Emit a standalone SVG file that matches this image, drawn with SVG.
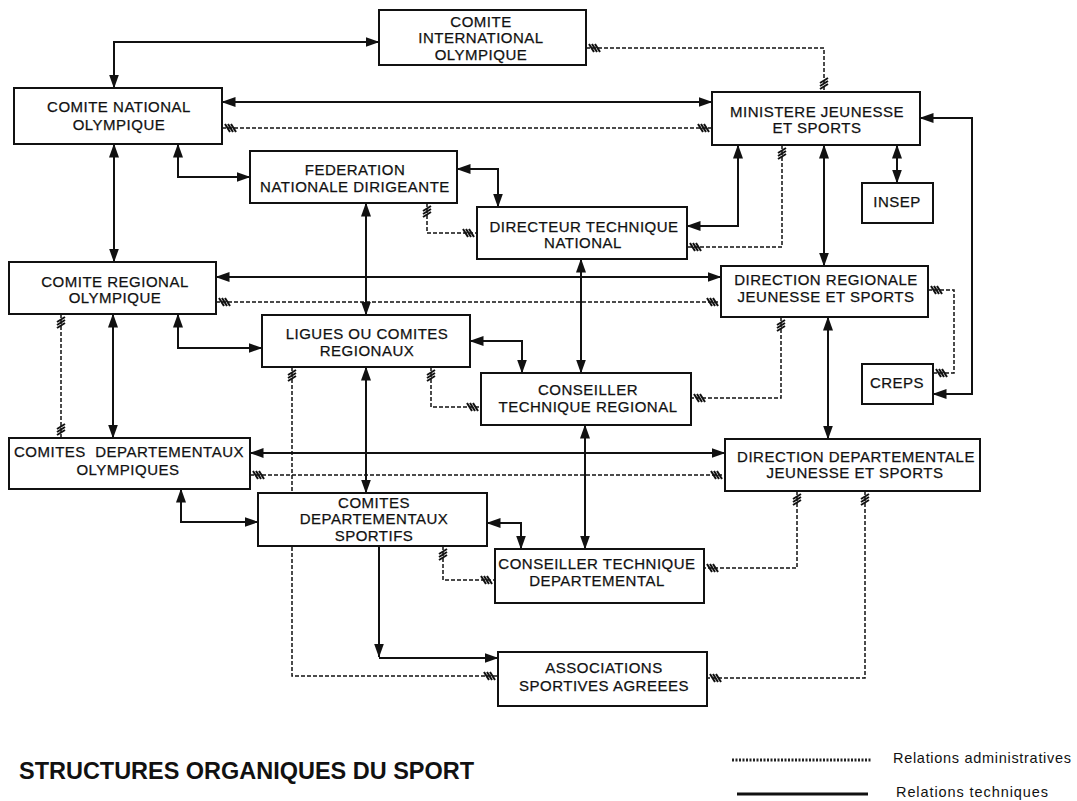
<svg xmlns="http://www.w3.org/2000/svg" width="1077" height="801" viewBox="0 0 1077 801">
<style>
.box{fill:#fff;stroke:#111;stroke-width:2}
.t{font-family:"Liberation Sans",Arial,sans-serif;font-size:15px;letter-spacing:0.5px;fill:#111;stroke:#111;stroke-width:0.25;text-anchor:middle}
.tech{fill:none;stroke:#111;stroke-width:2;marker-start:url(#a);marker-end:url(#a)}
.adm{fill:none;stroke:#111;stroke-width:1.5;stroke-dasharray:4 2;marker-start:url(#h);marker-end:url(#h)}
.leg{font-family:"Liberation Sans",Arial,sans-serif;font-size:14.5px;fill:#111}
</style>
<defs>
<marker id="a" markerUnits="userSpaceOnUse" markerWidth="14" markerHeight="10" viewBox="0 0 14 10" refX="13.5" refY="5" orient="auto-start-reverse"><path d="M0,0 L14,5 L0,10 z" fill="#111"/></marker>
<marker id="h" markerUnits="userSpaceOnUse" markerWidth="20" markerHeight="16" viewBox="-16 -8 20 16" refX="0" refY="0" orient="auto-start-reverse"><path d="M-14,-4 L-9,4 M-11,-4 L-6,4 M-8,-4 L-3,4" stroke="#111" stroke-width="2" fill="none"/></marker>
</defs>
<rect width="1077" height="801" fill="#fff"/>
<g id="connectors">
<path class="tech" d="M379,42 H114 V88"/>
<path class="tech" d="M222,102 H712"/>
<path class="tech" d="M114,144 V262"/>
<path class="tech" d="M178,144 V177 H250"/>
<path class="tech" d="M457,169 H498 V207"/>
<path class="tech" d="M738,145 V226 H687"/>
<path class="tech" d="M824,145 V266"/>
<path class="tech" d="M897,145 V183"/>
<path class="tech" d="M920,118 H972 V394 H933"/>
<path class="tech" d="M366,203 V315"/>
<path class="tech" d="M216,277 H721"/>
<path class="tech" d="M581,259 V373"/>
<path class="tech" d="M178,314 V348 H262"/>
<path class="tech" d="M470,341 H522 V373"/>
<path class="tech" d="M113,314 V438"/>
<path class="tech" d="M366,367 V493"/>
<path class="tech" d="M828,317 V439"/>
<path class="tech" d="M250,453 H725"/>
<path class="tech" d="M585,425 V549"/>
<path class="tech" d="M181,489 V522 H258"/>
<path class="tech" d="M487,523 H521 V549"/>
<path d="M379,546 V657" fill="none" stroke="#111" stroke-width="2" marker-end="url(#a)"/>
<path d="M379,658 H498" fill="none" stroke="#111" stroke-width="2" marker-end="url(#a)"/>
<path class="adm" d="M586,48 H824 V92"/>
<path class="adm" d="M222,128 H712"/>
<path class="adm" d="M427,203 V233 H477"/>
<path class="adm" d="M782,145 V247 H687"/>
<path class="adm" d="M216,302 H721"/>
<path class="adm" d="M781,317 V398 H691"/>
<path class="adm" d="M928,290 H954 V373 H933"/>
<path class="adm" d="M431,367 V407 H481"/>
<path class="adm" d="M61,314 V438"/>
<path class="adm" d="M250,475 H725"/>
<path class="adm" d="M292,367 V676 H498"/>
<path class="adm" d="M443,546 V580 H495"/>
<path class="adm" d="M797,491 V568 H704"/>
<path class="adm" d="M865,491 V678 H707"/>
</g>
<g id="cio"><rect class="box" x="379" y="10" width="207" height="55"/><text class="t" x="481" y="27">COMITE</text><text class="t" x="481" y="43">INTERNATIONAL</text><text class="t" x="481" y="60">OLYMPIQUE</text></g>
<g id="cno"><rect class="box" x="14" y="88" width="208" height="56"/><text class="t" x="119" y="112">COMITE NATIONAL</text><text class="t" x="119" y="130">OLYMPIQUE</text></g>
<g id="mjs"><rect class="box" x="712" y="92" width="208" height="53"/><text class="t" x="817" y="117">MINISTERE JEUNESSE</text><text class="t" x="817" y="133">ET SPORTS</text></g>
<g id="fnd"><rect class="box" x="250" y="151" width="207" height="52"/><text class="t" x="355" y="175">FEDERATION</text><text class="t" x="355" y="192">NATIONALE DIRIGEANTE</text></g>
<g id="dtn"><rect class="box" x="477" y="207" width="210" height="52"/><text class="t" x="584" y="232">DIRECTEUR TECHNIQUE</text><text class="t" x="583" y="248">NATIONAL</text></g>
<g id="insep"><rect class="box" x="862" y="183" width="71" height="40"/><text class="t" x="897" y="207">INSEP</text></g>
<g id="cro"><rect class="box" x="9" y="262" width="207" height="52"/><text class="t" x="115" y="287">COMITE REGIONAL</text><text class="t" x="115" y="303">OLYMPIQUE</text></g>
<g id="drjs"><rect class="box" x="721" y="266" width="207" height="51"/><text class="t" x="826" y="285">DIRECTION REGIONALE</text><text class="t" x="826" y="302">JEUNESSE ET SPORTS</text></g>
<g id="lcr"><rect class="box" x="262" y="315" width="208" height="52"/><text class="t" x="367" y="339">LIGUES OU COMITES</text><text class="t" x="367" y="356">REGIONAUX</text></g>
<g id="ctr"><rect class="box" x="481" y="373" width="210" height="52"/><text class="t" x="588" y="395">CONSEILLER</text><text class="t" x="588" y="412">TECHNIQUE REGIONAL</text></g>
<g id="creps"><rect class="box" x="862" y="364" width="71" height="40"/><text class="t" x="897" y="388">CREPS</text></g>
<g id="cdo"><rect class="box" x="9" y="438" width="241" height="51"/><text class="t" x="129" y="457" textLength="230" lengthAdjust="spacing">COMITES&#160; DEPARTEMENTAUX</text><text class="t" x="128" y="475">OLYMPIQUES</text></g>
<g id="ddjs"><rect class="box" x="725" y="439" width="255" height="52"/><text class="t" x="856" y="462">DIRECTION DEPARTEMENTALE</text><text class="t" x="855" y="478">JEUNESSE ET SPORTS</text></g>
<g id="cds"><rect class="box" x="258" y="493" width="229" height="53"/><text class="t" x="374" y="508">COMITES</text><text class="t" x="374" y="524">DEPARTEMENTAUX</text><text class="t" x="374" y="541">SPORTIFS</text></g>
<g id="ctd"><rect class="box" x="495" y="549" width="209" height="54"/><text class="t" x="597" y="569">CONSEILLER TECHNIQUE</text><text class="t" x="597" y="586">DEPARTEMENTAL</text></g>
<g id="asa"><rect class="box" x="498" y="652" width="209" height="54"/><text class="t" x="604" y="673">ASSOCIATIONS</text><text class="t" x="604" y="691">SPORTIVES AGREEES</text></g>
<g id="legend">
<line x1="732" y1="760" x2="871" y2="760" stroke="#222" stroke-width="3" stroke-dasharray="2 1.5"/>
<text class="leg" x="893" y="763" textLength="178" lengthAdjust="spacing">Relations administratives</text>
<line x1="737" y1="794" x2="868" y2="794" stroke="#111" stroke-width="3"/>
<text class="leg" x="896" y="797" textLength="152" lengthAdjust="spacing">Relations techniques</text>
</g>
<text x="19" y="779" font-family="Liberation Sans, Arial, sans-serif" font-size="23" font-weight="bold" fill="#111" textLength="455" lengthAdjust="spacingAndGlyphs">STRUCTURES ORGANIQUES DU SPORT</text>
</svg>
